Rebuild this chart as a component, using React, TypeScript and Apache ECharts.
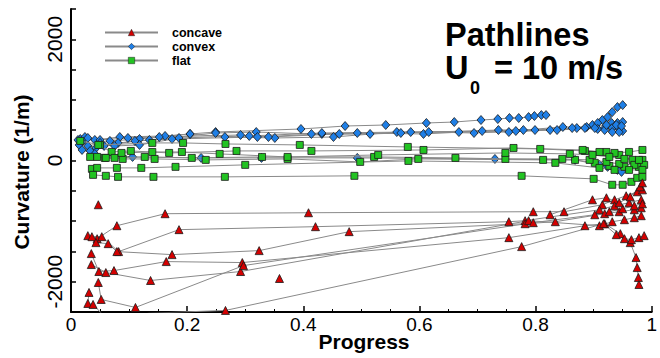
import { useEffect, useRef } from "react";
import * as echarts from "echarts";

// Pathline curvature vs. normalised progress, grouped by surface shape.
const legendNames = ["concave", "convex", "flat"];

const convexProgress: number[][] = [
  [0.016, 0.041, 0.084, 0.162, 0.205, 0.249, 0.396, 0.472, 0.542, 0.612, 0.66, 0.706, 0.735, 0.755, 0.771, 0.788, 0.798, 0.81, 0.818],
  [0.012, 0.029, 0.067, 0.118, 0.205, 0.265, 0.351, 0.452, 0.561, 0.668, 0.754, 0.825, 0.871, 0.898, 0.915, 0.924, 0.932, 0.941, 0.95],
  [0.019, 0.043, 0.081, 0.135, 0.249, 0.319, 0.414, 0.493, 0.607, 0.708, 0.779, 0.847, 0.888, 0.907, 0.931, 0.941, 0.95],
  [0.014, 0.033, 0.057, 0.11, 0.174, 0.321, 0.432, 0.515, 0.616, 0.694, 0.799, 0.863, 0.907, 0.919, 0.932, 0.944, 0.95],
  [0.019, 0.041, 0.106, 0.224, 0.328, 0.493, 0.73, 0.868, 0.91, 0.924, 0.941, 0.948],
  [0.024, 0.05, 0.098, 0.152, 0.292, 0.34, 0.462, 0.568, 0.736, 0.837, 0.902, 0.919, 0.932, 0.944],
  [0.029, 0.05, 0.075, 0.118, 0.186, 0.307, 0.432, 0.585, 0.766, 0.885, 0.922, 0.939, 0.948],
];
const convexCurvature: number[][] = [
  [355, 339, 388, 405, 438, 470, 520, 569, 586, 619, 635, 668, 684, 701, 701, 717, 734, 750, 750],
  [339, 240, 323, 355, 438, 388, 372, 388, 470, 470, 470, 503, 536, 586, 668, 717, 799, 882, 915],
  [306, 207, 290, 339, 454, 470, 438, 454, 438, 487, 503, 553, 553, 619, 619, 619, 635],
  [257, 158, 240, 323, 355, 388, 438, 438, 470, 454, 503, 536, 520, 536, 536, 520, 487],
  [174, 109, 59, 43, 43, 43, 26, 10, -72, -105, -155, -188],
  [388, 339, 372, 388, 421, 388, 438, 454, 503, 503, 536, 503, 470, 470],
  [372, 290, 240, 257, 372, 405, 454, 470, 487, 536, 586, 586, 569],
];

const flatProgress: number[][] = [
  [0.016, 0.05, 0.14, 0.193, 0.266, 0.394, 0.58, 0.808, 0.885, 0.922, 0.944, 0.967, 0.984],
  [0.047, 0.07, 0.103, 0.169, 0.285, 0.414, 0.607, 0.762, 0.881, 0.91, 0.936, 0.961, 0.984],
  [0.033, 0.058, 0.089, 0.144, 0.232, 0.373, 0.498, 0.598, 0.813, 0.868, 0.902, 0.927, 0.953, 0.978],
  [0.045, 0.075, 0.127, 0.208, 0.329, 0.522, 0.662, 0.748, 0.846, 0.893, 0.922, 0.944, 0.97, 0.987],
  [0.06, 0.087, 0.14, 0.191, 0.256, 0.373, 0.529, 0.748, 0.859, 0.898, 0.927, 0.953, 0.978],
  [0.036, 0.045, 0.079, 0.121, 0.18, 0.3, 0.581, 0.834, 0.91, 0.936, 0.961, 0.984],
  [0.038, 0.06, 0.081, 0.142, 0.265, 0.488, 0.776, 0.9, 0.932, 0.95, 0.965, 0.975, 0.984],
];
const flatCurvature: number[][] = [
  [323, 257, 290, 290, 273, 257, 224, 191, 158, 141, 92, 10, 10],
  [257, 141, 158, 125, 158, 158, 174, 207, 174, 141, 125, 141, 174],
  [59, 43, 26, 26, 10, 26, -23, 26, 10, 10, -39, -89, -105, -105],
  [59, 43, 59, 43, 59, 59, 43, 26, 26, 10, -23, -56, -72, -72],
  [43, 125, 141, 141, 109, 59, 92, 125, 109, 92, 59, 26, 10],
  [-138, -122, -122, -122, -105, -72, -7, -39, -122, -155, -155, -155],
  [-237, -253, -270, -270, -270, -253, -253, -303, -401, -401, -352, -286, -270],
];

const concaveProgress: number[][] = [
  [0.047],
  [0.359],
  [0.029, 0.045, 0.079, 0.162, 0.409, 0.796, 0.849, 0.915, 0.936, 0.956, 0.975, 0.984],
  [0.036, 0.053, 0.082, 0.186, 0.421, 0.754, 0.782, 0.91, 0.936, 0.961, 0.982],
  [0.043, 0.064, 0.079, 0.174, 0.324, 0.479, 0.782, 0.834, 0.919, 0.944, 0.97, 0.982],
  [0.035, 0.048, 0.074, 0.164, 0.295, 0.754, 0.885, 0.919, 0.946, 0.963, 0.973, 0.975, 0.977, 0.978],
  [0.035, 0.06, 0.137, 0.292, 0.788, 0.91, 0.932, 0.953, 0.97, 0.982],
  [0.047, 0.052, 0.111, 0.297, 0.796, 0.902, 0.927, 0.95, 0.97, 0.984],
  [0.075, 0.135, 0.266, 0.776, 0.917, 0.939, 0.953, 0.965, 0.978, 0.987],
  [0.031, 0.029, 0.038, 0.07],
  [0.825, 0.898, 0.922, 0.944, 0.963, 0.98, 0.984],
];
const concaveCurvature: number[][] = [
  [-730],
  [-1947],
  [-1240, -1290, -1076, -878, -862, -845, -845, -730, -648, -582, -516, -484],
  [-1257, -1257, -1503, -1141, -1092, -1010, -993, -813, -747, -697, -648],
  [-1355, -1372, -1503, -1553, -1487, -1174, -1043, -1010, -878, -845, -813, -780],
  [-1536, -1832, -1816, -1668, -1684, -1273, -1076, -1043, -1207, -1355, -1602, -1767, -1931, -2046],
  [-1717, -1849, -1980, -1832, -993, -1076, -1010, -977, -944, -911],
  [-2013, -2293, -2425, -1734, -1026, -895, -845, -796, -747, -714],
  [-2590, -2520, -2474, -1421, -1043, -1224, -1290, -1306, -1273, -1240],
  [-2177, -2359, -2375, -2700],
  [-895, -648, -615, -697, -599, -434, -368],
];

const FONT = '"Liberation Sans", Arial, Helvetica, sans-serif';

function pathSeries(
  name: string,
  xs: number[][],
  ys: number[][],
  symbol: string,
  size: number | number[],
  color: string,
  z: number
) {
  return xs.map((row, i) => ({
    type: "line" as const,
    name,
    data: row.map((x, j) => [x, ys[i][j]]),
    symbol,
    symbolSize: size,
    showSymbol: true,
    clip: true,
    silent: true,
    z,
    emphasis: { disabled: true },
    lineStyle: { color: "#8a8a8a", width: 1 },
    itemStyle: { color, borderColor: "#1a1a1a", borderWidth: 0.8 },
  }));
}

export default function App() {
  const ref = useRef<HTMLDivElement>(null);

  useEffect(() => {
    if (!ref.current) return;
    const chart = echarts.init(ref.current, undefined, { renderer: "svg" });

    const series = [
      ...pathSeries("convex", convexProgress, convexCurvature, "diamond", [8, 9], "#1f7fe6", 3),
      ...pathSeries("flat", flatProgress, flatCurvature, "rect", 7, "#22c322", 4),
      ...pathSeries("concave", concaveProgress, concaveCurvature, "triangle", 8, "#d40000", 5),
    ];

    const bold = (size: number) => `bold ${size}px ${FONT}`;

    chart.setOption({
      animation: false,
      backgroundColor: "#ffffff",
      grid: { left: 71, right: 3, top: 9, bottom: 46, containLabel: false },
      legend: {
        data: legendNames,
        orient: "vertical",
        left: 99,
        top: 21,
        itemWidth: 53,
        itemHeight: 8,
        itemGap: 1,
        selectedMode: false,
        itemStyle: { borderWidth: 0.5 },
        textStyle: {
          fontFamily: FONT,
          fontWeight: "bold",
          fontSize: 12.5,
          lineHeight: 12,
          color: "#000",
          padding: [0, 0, 0, 9],
        },
      },
      xAxis: {
        type: "value",
        min: 0,
        max: 1,
        interval: 0.2,
        axisLine: { show: true, onZero: false, lineStyle: { color: "#000", width: 2 } },
        axisTick: { show: true, inside: true, length: 6, lineStyle: { color: "#000", width: 1.5 } },
        minorTick: { show: true, splitNumber: 4, length: 3, lineStyle: { color: "#000", width: 1 } },
        splitLine: { show: false },
        axisLabel: { fontFamily: FONT, fontSize: 19, color: "#000", margin: 3 },
      },
      yAxis: {
        type: "value",
        min: -2500,
        max: 2500,
        interval: 500,
        axisLine: { show: true, onZero: false, lineStyle: { color: "#000", width: 2 } },
        axisTick: { show: true, inside: true, length: 5, lineStyle: { color: "#000", width: 1.5 } },
        splitLine: { show: false },
        axisLabel: {
          fontFamily: FONT,
          fontSize: 21,
          color: "#000",
          rotate: 90,
          margin: 6,
          formatter: (v: number) => (v % 2000 === 0 ? String(v) : ""),
        },
      },
      graphic: [
        {
          type: "text",
          x: 445,
          y: 34.5,
          style: { text: "Pathlines", font: bold(32.5), lineHeight: 28, fill: "#000", align: "left", verticalAlign: "middle" },
        },
        {
          type: "text",
          x: 445,
          y: 68,
          style: { text: "U", font: bold(32.5), lineHeight: 28, fill: "#000", align: "left", verticalAlign: "middle" },
        },
        {
          type: "text",
          x: 470,
          y: 88,
          style: { text: "0", font: bold(18), lineHeight: 16, fill: "#000", align: "left", verticalAlign: "middle" },
        },
        {
          type: "text",
          x: 494,
          y: 68,
          style: { text: "= 10 m/s", font: bold(32.5), lineHeight: 28, fill: "#000", align: "left", verticalAlign: "middle" },
        },
        {
          type: "text",
          x: 364,
          y: 341,
          style: { text: "Progress", font: bold(21), fill: "#000", align: "center", verticalAlign: "middle" },
        },
        {
          type: "text",
          x: 21,
          y: 172,
          rotation: Math.PI / 2,
          style: { text: "Curvature (1/m)", font: bold(21), fill: "#000", align: "center", verticalAlign: "middle" },
        },
      ],
      series,
    });

    return () => chart.dispose();
  }, []);

  return (
    <div
      ref={ref}
      style={{ position: "fixed", left: 0, top: 0, width: 660, height: 358, background: "#fff" }}
    />
  );
}
